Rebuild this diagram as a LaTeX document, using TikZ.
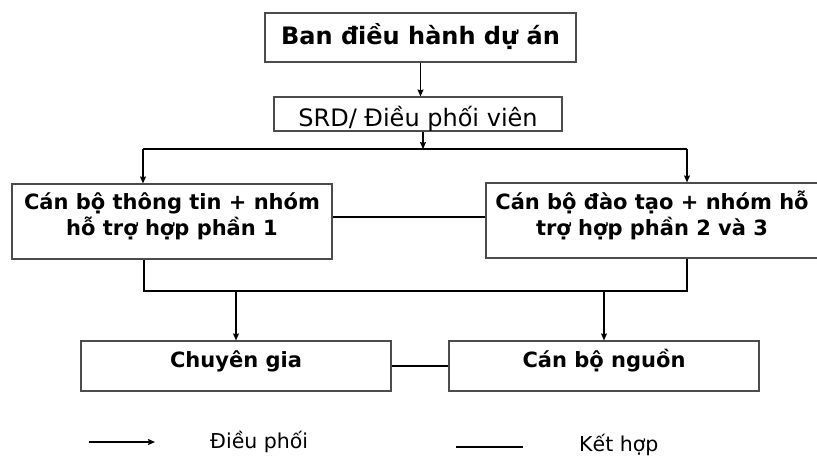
\documentclass[tikz,border=0pt]{standalone}
\usepackage{fontspec}
\setmainfont{DejaVu Sans}
\usetikzlibrary{arrows.meta,calc}
\begin{document}
\begin{tikzpicture}[x=1pt,y=-1pt,
  box/.style={draw=black!70, line width=1.2pt, rectangle, inner sep=0pt},
  lbl/.style={anchor=base, inner sep=0pt, font=\fontsize{21}{26}\selectfont\bfseries},
  arr/.style={line width=1.1pt, -{Stealth[length=7pt,width=6pt,inset=1pt]}},
  ln/.style={line width=1.1pt},
  link/.style={line width=2.4pt}]
\useasboundingbox (0,0) rectangle (817,456);
% boxes
\node[box, minimum width=311pt, minimum height=49pt] (top) at (420.5,37.5) {};
\node[box, minimum width=288pt, minimum height=34pt] (srd) at (418,114) {};
\node[box, minimum width=320pt, minimum height=75pt] (left) at (172,221.5) {};
\node[box, minimum width=332pt, minimum height=75pt] (right) at (652,220.5) {};
\node[box, minimum width=310pt, minimum height=50pt] (cg) at (236,366) {};
\node[box, minimum width=310pt, minimum height=50pt] (cbn) at (604,366) {};
% texts
\node[lbl, font=\fontsize{24}{28}\selectfont\bfseries] (topt) at (420.5,44) {Ban điều hành dự án};
\node[lbl, font=\fontsize{24}{28}\selectfont] (srdt) at (418,126) {SRD/ Điều phối viên};
\node[lbl] (lt1) at (172,209) {Cán bộ thông tin + nhóm};
\node[lbl] (lt2) at (172,235) {hỗ trợ hợp phần 1};
\node[lbl] (rt1) at (652,209) {Cán bộ đào tạo + nhóm hỗ};
\node[lbl] (rt2) at (652,235) {trợ hợp phần 2 và 3};
\node[lbl] (cgt) at (236,367) {Chuyên gia};
\node[lbl] (cbnt) at (604,367) {Cán bộ nguồn};
% connectors
\draw[arr] (top.south) -- (top.south |- srd.north);
\coordinate (j0) at (423,149);
\draw[arr] (j0 |- srd.south) -- (j0);
\coordinate (hl) at (143,149);
\coordinate (hr) at (687,149);
\draw[ln] (hl) -- (hr);
\draw[arr] (hl) -- (hl |- left.north);
\draw[arr] (hr) -- (hr |- right.north);
\draw[link] (left.east |- 0,217) -- (right.west |- 0,217);
\coordinate (bl) at (144,291);
\coordinate (br) at (687,291);
\draw[ln] (bl |- left.south) -- (bl) -- (br) -- (br |- right.south);
\draw[arr] (cg.north |- bl) -- (cg.north);
\draw[arr] (cbn.north |- bl) -- (cbn.north);
\draw[ln] (cg.east) -- (cbn.west);
% legend
\coordinate (la1) at (89,442);
\coordinate (la2) at (155,442);
\draw[arr] (la1) -- (la2);
\node[anchor=base west, inner sep=0pt, font=\fontsize{20.5}{24}\selectfont] (leg1) at (210,448) {Điều phối};
\coordinate (lk1) at (456,447);
\coordinate (lk2) at (523,447);
\draw[link] (lk1) -- (lk2);
\node[anchor=base west, inner sep=0pt, font=\fontsize{20.5}{24}\selectfont] (leg2) at (579,451) {Kết hợp};
\end{tikzpicture}
\end{document}
